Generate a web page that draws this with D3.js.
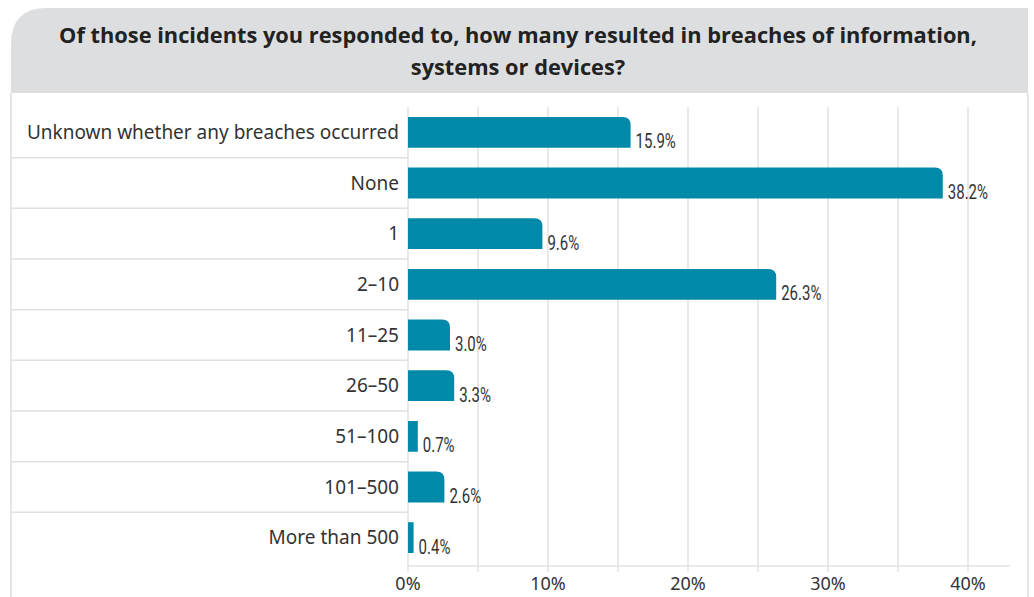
<!DOCTYPE html>
<html><head><meta charset="utf-8">
<script src="https://cdn.jsdelivr.net/npm/d3@7"></script>
<style>
html,body{margin:0;padding:0;background:#fff;}
svg{display:block;}
</style></head>
<body>
<svg id="chart" width="1034" height="597"></svg>
<script>
const titleLines = ["Of those incidents you responded to, how many resulted in breaches of information,", "systems or devices?"];
const categories = ["Unknown whether any breaches occurred","None","1","2\u201310","11\u201325","26\u201350","51\u2013100","101\u2013500","More than 500"];
const values = [15.9, 38.2, 9.6, 26.3, 3.0, 3.3, 0.7, 2.6, 0.4];
const majorTicks = [0, 10, 20, 30, 40];
const gridTicks = [0, 5, 10, 15, 20, 25, 30, 35, 40];

const svg = d3.select("#chart");
const W = 1034, H = 597;
const panel = {x: 11, y: 8, r: 36, right: 1028, headerBottom: 93};
const plot = {left: 408, right: 1010, top: 107, bottom: 563, axisY: 566};

const hdr = `M${panel.x},${panel.headerBottom} L${panel.x},${panel.y+panel.r} Q${panel.x},${panel.y} ${panel.x+panel.r},${panel.y} L${panel.right},${panel.y} L${panel.right},${panel.headerBottom} Z`;
svg.append("path").attr("d", hdr).attr("fill", "#dddee0");
svg.append("line").attr("x1", panel.x).attr("x2", panel.x).attr("y1", panel.headerBottom).attr("y2", H)
  .attr("stroke", "#dcdcdc").attr("stroke-width", 1.5);
svg.append("line").attr("x1", panel.right).attr("x2", panel.right).attr("y1", panel.headerBottom).attr("y2", H)
  .attr("stroke", "#dcdcdc").attr("stroke-width", 1.5);

svg.append("g").selectAll("text").data(titleLines).join("text")
  .attr("x", 518).attr("y", (d, i) => 43 + i * 32)
  .attr("text-anchor", "middle")
  .attr("font-family", "'Open Sans', 'Noto Sans', sans-serif")
  .attr("font-weight", 700).attr("font-size", 21.8).attr("fill", "#222")
  .text(d => d);

const x = d3.scaleLinear().domain([0, 43]).range([plot.left, plot.left + 43 * 14.0]);
const y = d3.scaleBand().domain(categories).range([plot.top, plot.bottom]).paddingInner(0.39).paddingOuter(0.195);
const band = d3.scaleBand().domain(categories).range([plot.top, plot.bottom]);

svg.append("g").selectAll("line").data(gridTicks).join("line")
  .attr("x1", d => x(d)).attr("x2", d => x(d))
  .attr("y1", plot.top).attr("y2", plot.axisY + 6)
  .attr("stroke", "#e2e2e2").attr("stroke-width", 1.5);

svg.append("g").selectAll("line").data(categories.slice(1)).join("line")
  .attr("x1", panel.x).attr("x2", plot.left)
  .attr("y1", d => band(d)).attr("y2", d => band(d))
  .attr("stroke", "#e0e0e0").attr("stroke-width", 1.5);

svg.append("line").attr("x1", plot.left).attr("x2", x(43)).attr("y1", plot.axisY).attr("y2", plot.axisY)
  .attr("stroke", "#e2e2e2").attr("stroke-width", 1.5);

function barPath(d, i) {
  const x0 = x(0), x1 = x(values[i]), y0 = y(d), h = y.bandwidth();
  const r = (x1 - x0) > 20 ? 8 : 0;
  return `M${x0},${y0} L${x1 - r},${y0} Q${x1},${y0} ${x1},${y0 + r} L${x1},${y0 + h} L${x0},${y0 + h} Z`;
}
svg.append("g").selectAll("path").data(categories).join("path")
  .attr("d", barPath).attr("fill", "#0089a8");

svg.append("g").selectAll("text").data(categories).join("text")
  .attr("transform", (d, i) => `translate(${x(values[i]) + 5},${y(d) + y.bandwidth() + 0.5}) scale(0.75,1)`)
  .attr("font-family", "Roboto, 'Liberation Sans', sans-serif")
  .attr("font-size", 20).attr("fill", "#333")
  .text((d, i) => values[i].toFixed(1) + "%");

svg.append("g").selectAll("text").data(categories).join("text")
  .attr("x", 399)
  .attr("y", d => band(d) + band.bandwidth() / 2 + 6.5)
  .attr("text-anchor", "end")
  .attr("font-family", "'Noto Sans', 'Open Sans', sans-serif")
  .attr("font-size", 19).attr("fill", "#333")
  .text(d => d);

svg.append("g").selectAll("text").data(majorTicks).join("text")
  .attr("x", d => x(d)).attr("y", 590)
  .attr("text-anchor", "middle")
  .attr("font-family", "'Noto Sans', 'Open Sans', sans-serif")
  .attr("font-size", 18).attr("fill", "#333")
  .text(d => d + "%");
</script>
</body></html>
